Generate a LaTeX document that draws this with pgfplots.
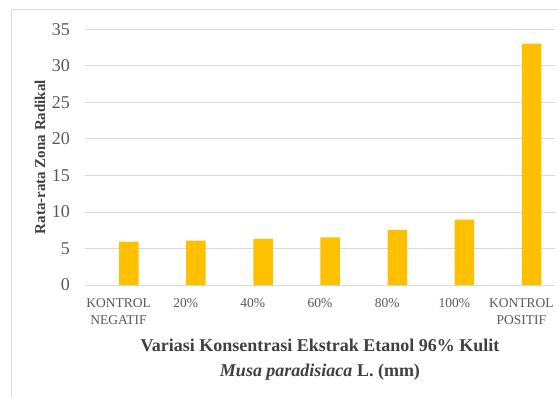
\documentclass[border=0pt]{standalone}
\usepackage{fontspec}
\setmainfont{Liberation Serif}
\usepackage{pgfplots}
\pgfplotsset{compat=1.18}
\definecolor{barc}{HTML}{FFC000}
\definecolor{gridc}{HTML}{D9D9D9}
\definecolor{txt}{HTML}{595959}
\definecolor{ttl}{HTML}{404040}
\begin{document}
\begin{tikzpicture}[x=1pt,y=1pt]
\useasboundingbox (-85,-112) rectangle (473,285);
\draw[gridc, line width=1pt] (-73,-120) -- (-73,275) -- (480,275);
\begin{axis}[
  at={(0,0)}, anchor=south west,
  scale only axis, width=470pt, height=255.7pt,
  xmin=-0.5, xmax=6.5, ymin=0, ymax=35,
  ytick={0,5,...,35},
  xtick={0,...,6},
  xticklabels={{KONTROL\\NEGATIF},20\%,40\%,60\%,80\%,100\%,{KONTROL\\POSITIF}},
  ymajorgrids, grid style={gridc, line width=0.8pt},
  axis line style={draw=none},
  major tick length=0pt,
  /pgf/number format/assume math mode=true,
  yticklabel style={font=\fontsize{18}{18}\selectfont, text=txt, inner sep=0pt, xshift=-15pt},
  xticklabel style={font=\fontsize{13.5}{17}\selectfont, text=txt, inner sep=0pt, yshift=-13.5pt, align=center},
  ylabel={\textbf{Rata-rata Zona Radikal}},
  ylabel style={font=\fontsize{15}{18}\selectfont, text=ttl, at={(axis description cs:-0.0851,0.5)}, anchor=base, inner sep=0pt},
  xlabel={\textbf{Variasi Konsentrasi Ekstrak Etanol 96\% Kulit}\\\textbf{\textit{Musa paradisiaca} L. (mm)}},
  xlabel style={font=\fontsize{18}{24.5}\selectfont, text=ttl, align=center, at={(axis description cs:0.5,-0.211)}, anchor=north, inner sep=0pt},
  ybar, bar width=19.5pt, bar shift=10.2pt,
]
\addplot[fill=barc, draw=none] coordinates {(0,5.93) (1,6.06) (2,6.30) (3,6.53) (4,7.53) (5,8.94) (6,33.03)};
\end{axis}
\end{tikzpicture}
\end{document}
